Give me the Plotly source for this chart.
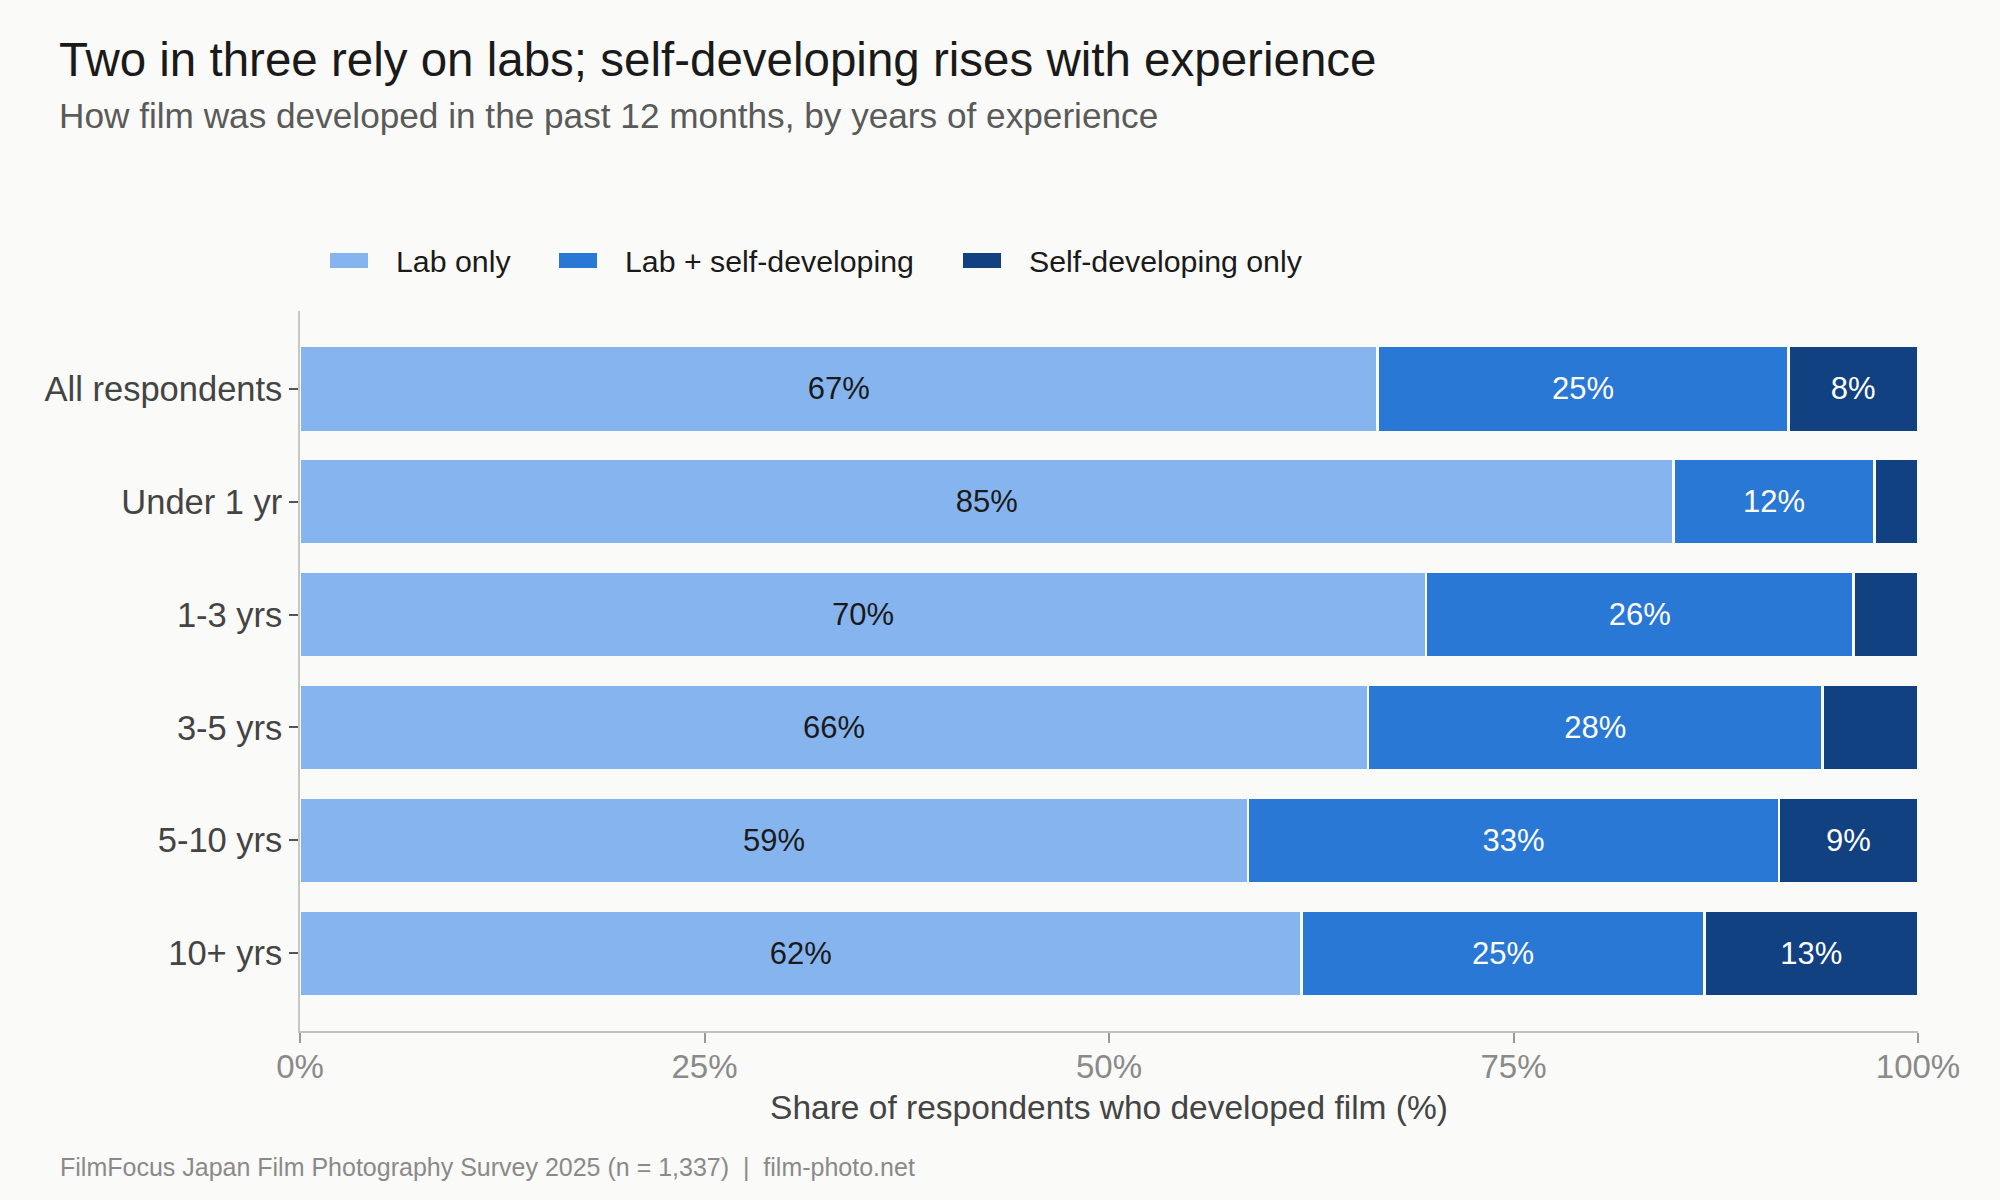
import plotly.graph_objects as go

# ---- data ----
categories = ["All respondents", "Under 1 yr", "1-3 yrs", "3-5 yrs", "5-10 yrs", "10+ yrs"]
lab_only = [66.6, 84.9, 69.6, 66.0, 58.6, 61.9]
lab_plus_self = [25.4, 12.4, 26.4, 28.1, 32.8, 24.9]
self_only = [8.0, 2.7, 4.0, 5.9, 8.6, 13.2]
series_names = ["Lab only", "Lab + self-developing", "Self-developing only"]
x_ticks = [0, 25, 50, 75, 100]
x_tick_labels = ["0%", "25%", "50%", "75%", "100%"]

# ---- style ----
BG = "#fafaf8"
colors = ["#86b4ee", "#2a78d5", "#114181"]
text_colors = ["#1a1a1a", "#ffffff", "#ffffff"]
FONT = "Liberation Sans, Arial, Helvetica, sans-serif"
LABEL_MIN = 7

# plot area geometry (pixels)
L, R, T, B = 300, 82, 311, 169
W, H = 2000, 1200
PW, PH = W - L - R, H - T - B


def px_x(p):
    return (p - L) / PW


def px_y(p):
    return (H - B - p) / PH


fig = go.Figure()
for name, vals, col, tcol in zip(series_names, [lab_only, lab_plus_self, self_only], colors, text_colors):
    fig.add_trace(go.Bar(
        y=categories, x=vals, name=name, orientation="h",
        marker=dict(color=col, line=dict(color=BG, width=2.5)),
        text=[f"{round(v)}%" if v >= LABEL_MIN else "" for v in vals],
        textposition="inside", insidetextanchor="middle",
        textfont=dict(color=tcol, size=31, family=FONT),
        hoverinfo="skip", showlegend=False,
    ))

# custom legend (wide swatches like the reference)
legend_swatch_px = [330, 559, 963]
shapes = []
annotations = []
for name, col, sx in zip(series_names, colors, legend_swatch_px):
    shapes.append(dict(type="rect", xref="paper", yref="paper",
                       x0=px_x(sx), x1=px_x(sx + 38), y0=px_y(268), y1=px_y(253),
                       fillcolor=col, line=dict(width=0), layer="above"))
    annotations.append(dict(text=name, xref="paper", yref="paper",
                            x=px_x(sx + 64), y=px_y(261), xanchor="left", yanchor="middle",
                            showarrow=False, font=dict(size=30.3, color="#1a1a1a")))

annotations += [
    dict(text="Two in three rely on labs; self-developing rises with experience",
         xref="paper", yref="paper", x=px_x(57), y=px_y(60), xanchor="left", yanchor="middle",
         showarrow=False, font=dict(size=47.5, color="#1a1a1a")),
    dict(text="How film was developed in the past 12 months, by years of experience",
         xref="paper", yref="paper", x=px_x(57), y=px_y(115), xanchor="left", yanchor="middle",
         showarrow=False, font=dict(size=35.2, color="#5a5a5a")),
    dict(text="FilmFocus Japan Film Photography Survey 2025 (n = 1,337)  |  film-photo.net",
         xref="paper", yref="paper", x=px_x(58), y=px_y(1167), xanchor="left", yanchor="middle",
         showarrow=False, font=dict(size=25, color="#8a8a8a")),
]

n = len(categories)
fig.update_layout(
    width=W, height=H,
    barmode="stack", bargap=0.24,
    paper_bgcolor=BG, plot_bgcolor=BG,
    font=dict(family=FONT, color="#444444"),
    margin=dict(l=L, r=R, t=T, b=B, autoexpand=False),
    showlegend=False,
    xaxis=dict(range=[0, 100], tickvals=x_ticks, ticktext=x_tick_labels,
               showgrid=False, zeroline=False,
               showline=True, linecolor="#c2c2b8", linewidth=2,
               ticks="outside", ticklen=10, tickwidth=1.5, tickcolor="#9a9a92",
               ticklabelstandoff=-5,
               tickfont=dict(size=33, color="#8a8a8a"),
               title=dict(text="Share of respondents who developed film (%)",
                          font=dict(size=33.5, color="#444444"), standoff=12)),
    yaxis=dict(categoryorder="array", categoryarray=categories,
               range=[n - 1 + 0.69, -0.69],
               showgrid=False, zeroline=False,
               showline=True, linecolor="#c8c8be", linewidth=1.5,
               ticks="outside", ticklen=9, tickwidth=1.5, tickcolor="#555555",
               tickfont=dict(size=34.5, color="#444444")),
    shapes=shapes,
    annotations=annotations,
)

fig.write_html("out.html", config={"displayModeBar": False},
               post_script="document.body.style.margin='0';")
